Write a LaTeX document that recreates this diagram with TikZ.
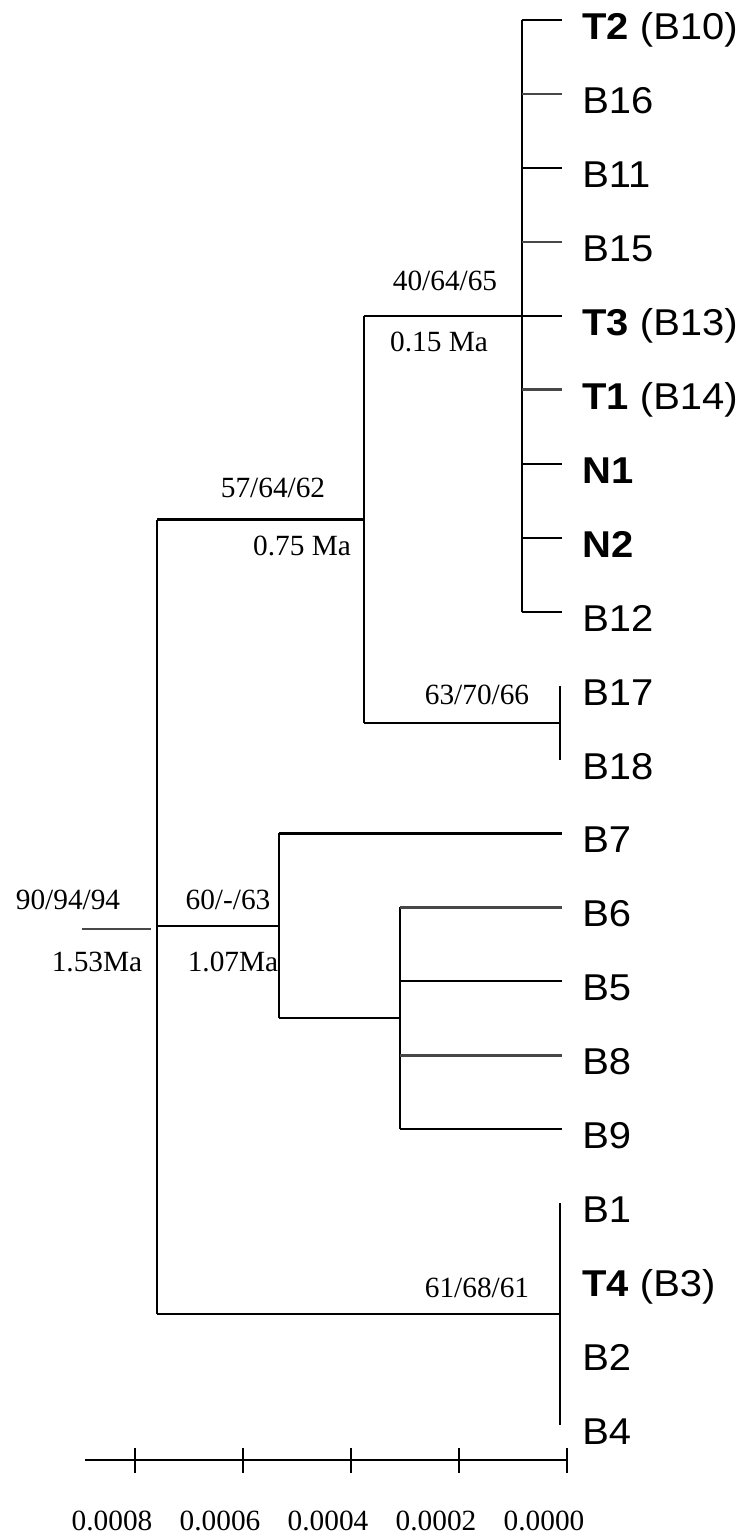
\documentclass[tikz,border=0pt]{standalone}
\usepackage{fontspec}
\newfontfamily\leaffont[FakeStretch=1.07]{Liberation Sans}
\newfontfamily\numfont{Liberation Serif}
\tikzset{
  br/.style={line width=1.6pt, black},
  brg/.style={line width=1.9pt, black!72},
  vt/.style={line width=2pt, black},
  leaf/.style={anchor=base west, inner sep=0pt, font=\leaffont\fontsize{28pt}{28pt}\selectfont},
  supp/.style={anchor=base, inner sep=0pt, font=\numfont\fontsize{22pt}{22pt}\selectfont},
  axlab/.style={anchor=base, inner sep=0pt, font=\numfont\fontsize{22pt}{22pt}\selectfont},
}
\begin{document}
\begin{tikzpicture}[x=0.75pt,y=-0.75pt]
\useasboundingbox (0,0) rectangle (739,1534);
% leaves: tip coordinates and labels
\foreach \n/\i/\t in {T2/0/{\textbf{T2} (B10)},B16/1/B16,B11/2/B11,B15/3/B15,T3/4/{\textbf{T3} (B13)},
  T1/5/{\textbf{T1} (B14)},N1/6/{\textbf{N1}},N2/7/{\textbf{N2}},B12/8/B12,B17/9/B17,B18/10/B18,
  B7/11/B7,B6/12/B6,B5/13/B5,B8/14/B8,B9/15/B9,B1/16/B1,T4/17/{\textbf{T4} (B3)},B2/18/B2,B4/19/B4}{
  \coordinate (t\n) at (562,{20+73.95*\i});
  \node[leaf] (l\n) at (582,{39.5+73.95*\i}) {\t};
}
% internal nodes
\coordinate (c1) at (522,316);
\coordinate (c2) at (560,723);
\coordinate (n075) at (364,519.5);
\coordinate (c3) at (400,1018);
\coordinate (n107) at (279,926);
\coordinate (c4) at (560,1314);
\coordinate (root) at (157,926);
\coordinate (rs0) at (82,929);
\coordinate (rs1) at (151,929);
% clade 1
\draw[vt] (c1 |- tT2) -- (c1 |- tB12);
\foreach \n in {T2,B11,T3,N1,N2,B12} \draw[br] (c1 |- t\n) -- (t\n);
\foreach \n in {B16,B15,T1} \draw[brg] (c1 |- t\n) -- (t\n);
% B17/B18
\draw[vt] (c2 |- tB17) -- (c2 |- tB18);
% node 0.75 Ma
\draw[vt] (n075 |- c1) -- (n075 |- c2);
\draw[br] (n075 |- c1) -- (c1);
\draw[br] (n075 |- c2) -- (c2);
% B6-B9
\draw[vt] (c3 |- tB6) -- (c3 |- tB9);
\foreach \n in {B5,B9} \draw[br] (c3 |- t\n) -- (t\n);
\foreach \n in {B6,B8} \draw[brg] (c3 |- t\n) -- (t\n);
% node 1.07 Ma
\draw[vt] (n107 |- tB7) -- (n107 |- c3);
\draw[br] (n107 |- tB7) -- (tB7);
\draw[br] (n107 |- c3) -- (c3);
% B1-B4
\draw[vt] (c4 |- tB1) -- (c4 |- tB4);
% root
\draw[vt] (root |- n075) -- (root |- c4);
\draw[br] (root |- n075) -- (n075);
\draw[br] (root) -- (n107);
\draw[br] (root |- c4) -- (c4);
\draw[brg, line width=2.2pt] (rs0) -- (rs1);
% support values and ages
\node[supp] (s1) at (445,290) {40/64/65};
\node[supp] (a1) at (439,351) {0.15 Ma};
\node[supp] (s2) at (273,497) {57/64/62};
\node[supp] (a2) at (302,555) {0.75 Ma};
\node[supp] (s3) at (477,704) {63/70/66};
\node[supp] (s4) at (68,909) {90/94/94};
\node[supp] (a4) at (97,971) {1.53Ma};
\node[supp] (s5) at (228,909) {60/-/63};
\node[supp] (a5) at (233,971) {1.07Ma};
\node[supp] (s6) at (477,1297) {61/68/61};
% scale axis
\coordinate (ax0) at (85,1460);
\coordinate (ax1) at (567,1460);
\draw[br] (ax0) -- (ax1);
\foreach \k/\v in {0/0.0008,1/0.0006,2/0.0004,3/0.0002,4/0.0000}{
  \coordinate (tk\k) at ({135+108*\k},1460);
  \draw[br] ([yshift=9pt]tk\k) -- ([yshift=-9.5pt]tk\k);
  \node[axlab] (tl\k) at ({112+108*\k},1530) {\v};
}
\end{tikzpicture}
\end{document}
